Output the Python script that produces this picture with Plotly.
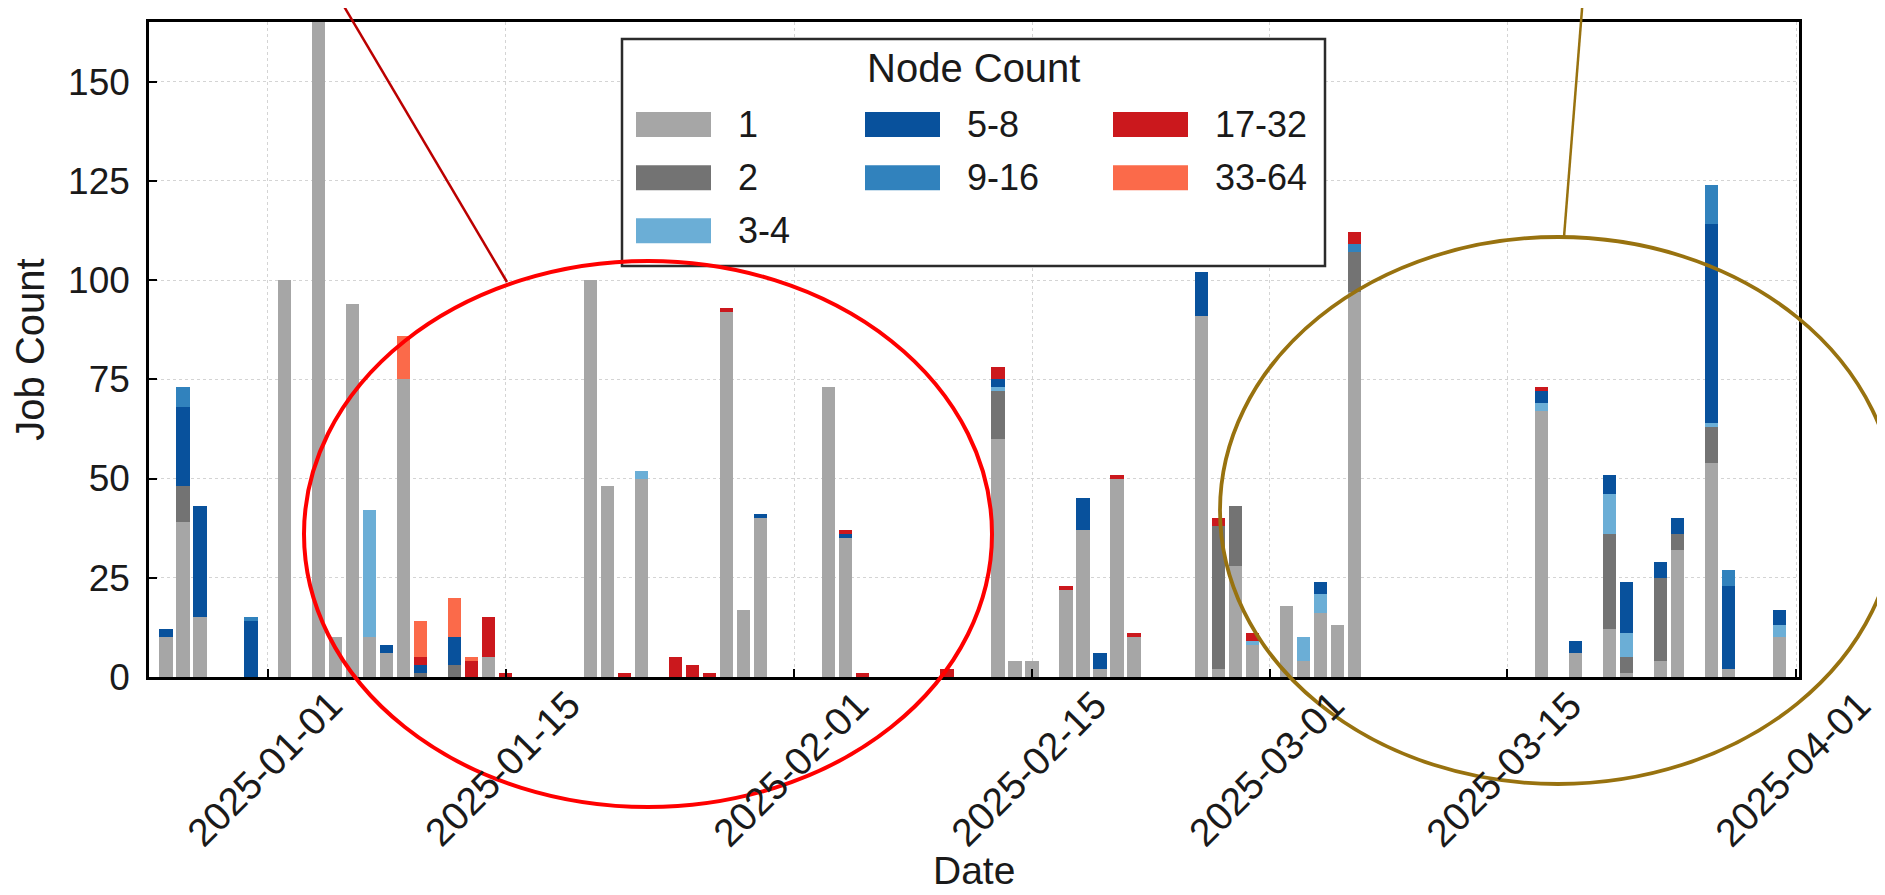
import plotly.graph_objects as go

# ---------------- data ----------------
dates = [
    "2024-12-26", "2024-12-27", "2024-12-28", "2024-12-31",
    "2025-01-02", "2025-01-04", "2025-01-05", "2025-01-06", "2025-01-07",
    "2025-01-08", "2025-01-09", "2025-01-10", "2025-01-12", "2025-01-13",
    "2025-01-14", "2025-01-15", "2025-01-20", "2025-01-21", "2025-01-22",
    "2025-01-23", "2025-01-25", "2025-01-26", "2025-01-27", "2025-01-28",
    "2025-01-29", "2025-01-30", "2025-02-03", "2025-02-04", "2025-02-05",
    "2025-02-10", "2025-02-13", "2025-02-14", "2025-02-15", "2025-02-17",
    "2025-02-18", "2025-02-19", "2025-02-20", "2025-02-21", "2025-02-25",
    "2025-02-26", "2025-02-27", "2025-02-28", "2025-03-02", "2025-03-03",
    "2025-03-04", "2025-03-05", "2025-03-06", "2025-03-17", "2025-03-19",
    "2025-03-21", "2025-03-22", "2025-03-24", "2025-03-25", "2025-03-27",
    "2025-03-28", "2025-03-31",
]

n1 = [10, 39, 15, 0, 100, 175, 10, 94, 10, 6, 75, 0, 0, 0, 5, 0, 100, 48, 0,
      50, 0, 0, 0, 92, 17, 40, 73, 35, 0, 0, 60, 4, 4, 22, 37, 2, 50, 10, 91,
      2, 28, 8, 18, 4, 16, 13, 97, 67, 6, 12, 1, 4, 32, 54, 2, 10]
n2 = [0, 9, 0, 0, 0, 0, 0, 0, 0, 0, 0, 1, 3, 0, 0, 0, 0, 0, 0,
      0, 0, 0, 0, 0, 0, 0, 0, 0, 0, 0, 12, 0, 0, 0, 0, 0, 0, 0, 0,
      36, 15, 0, 0, 0, 0, 0, 10, 0, 0, 24, 4, 21, 4, 9, 0, 0]
n3_4 = [0, 0, 0, 0, 0, 0, 0, 0, 32, 0, 0, 0, 0, 0, 0, 0, 0, 0, 0,
        2, 0, 0, 0, 0, 0, 0, 0, 0, 0, 0, 1, 0, 0, 0, 0, 0, 0, 0, 0,
        0, 0, 1, 0, 6, 5, 0, 0, 2, 0, 10, 6, 0, 0, 1, 0, 3]
n5_8 = [2, 20, 28, 14, 0, 0, 0, 0, 0, 2, 0, 2, 7, 0, 0, 0, 0, 0, 0,
        0, 0, 0, 0, 0, 0, 1, 0, 1, 0, 0, 2, 0, 0, 0, 8, 4, 0, 0, 11,
        0, 0, 0, 0, 0, 3, 0, 0, 3, 3, 5, 13, 4, 4, 50, 21, 4]
n9_16 = [0, 5, 0, 1, 0, 0, 0, 0, 0, 0, 0, 0, 0, 0, 0, 0, 0, 0, 0,
         0, 0, 0, 0, 0, 0, 0, 0, 0, 0, 0, 0, 0, 0, 0, 0, 0, 0, 0, 0,
         0, 0, 0, 0, 0, 0, 0, 2, 0, 0, 0, 0, 0, 0, 10, 4, 0]
n17_32 = [0, 0, 0, 0, 0, 0, 0, 0, 0, 0, 0, 2, 0, 4, 10, 1, 0, 0, 1,
          0, 5, 3, 1, 1, 0, 0, 0, 1, 1, 2, 3, 0, 0, 1, 0, 0, 1, 1, 0,
          2, 0, 2, 0, 0, 0, 0, 3, 1, 0, 0, 0, 0, 0, 0, 0, 0]
n33_64 = [0, 0, 0, 0, 0, 0, 0, 0, 0, 0, 11, 9, 10, 1, 0, 0, 0, 0, 0,
          0, 0, 0, 0, 0, 0, 0, 0, 0, 0, 0, 0, 0, 0, 0, 0, 0, 0, 0, 0,
          0, 0, 0, 0, 0, 0, 0, 0, 0, 0, 0, 0, 0, 0, 0, 0, 0]

series_names = ["1", "2", "3-4", "5-8", "9-16", "17-32", "33-64"]
series_values = [n1, n2, n3_4, n5_8, n9_16, n17_32, n33_64]
series_colors = ["#a6a6a6", "#737373", "#6baed6", "#08519c", "#3182bd", "#cb181d", "#fb6a4a"]

x_tick_vals = ["2025-01-01", "2025-01-15", "2025-02-01", "2025-02-15",
               "2025-03-01", "2025-03-15", "2025-04-01"]
x_tick_text = x_tick_vals
y_tick_vals = [0, 25, 50, 75, 100, 125, 150]

# ---------------- layout geometry (pixels) ----------------
W, H = 1885, 895
L, R, T, B = 141, 94, 14, 226
PW, PH = W - L - R, H - T - B


def px(x):
    return (x - L) / PW


def py(y):
    return (H - B - y) / PH


FONT = "Liberation Sans, Arial, sans-serif"
TXT = "#1a1a1a"
BAR_W = 0.78 * 86400000

fig = go.Figure()
for name, vals, col in zip(series_names, series_values, series_colors):
    fig.add_trace(go.Bar(x=dates, y=vals, name=name, marker=dict(color=col, line=dict(width=0)),
                         width=BAR_W, showlegend=False))

# ---------------- legend (3 columns, column-major like the original) ----------------
leg_box = (614, 31, 1317, 258)          # left, top, right, bottom (px)
col_swatch_x = [628, 857, 1105]
col_text_x = [728, 957, 1205]
row_y = [116.5, 169.7, 222.8]
sw_w, sw_h = 75, 25
legend_slots = [(0, 0), (0, 1), (0, 2), (1, 0), (1, 1), (2, 0), (2, 1)]

shapes = [
    dict(type="rect", xref="paper", yref="paper",
         x0=px(leg_box[0]), x1=px(leg_box[2]), y0=py(leg_box[3]), y1=py(leg_box[1]),
         line=dict(color="#2b2b2b", width=2.5), fillcolor="white", layer="above"),
]
annotations = [
    dict(text="Node Count", xref="paper", yref="paper", x=px(965.5), y=py(60),
         xanchor="center", yanchor="middle", showarrow=False,
         font=dict(size=40, family=FONT, color=TXT)),
]
for (name, col), (c, r) in zip(zip(series_names, series_colors), legend_slots):
    yc = row_y[r]
    shapes.append(dict(type="rect", xref="paper", yref="paper",
                       x0=px(col_swatch_x[c]), x1=px(col_swatch_x[c] + sw_w),
                       y0=py(yc + sw_h / 2), y1=py(yc - sw_h / 2),
                       line=dict(width=0), fillcolor=col, layer="above"))
    annotations.append(dict(text=name, xref="paper", yref="paper", x=px(col_text_x[c]), y=py(yc),
                            xanchor="left", yanchor="middle", showarrow=False,
                            font=dict(size=36, family=FONT, color=TXT)))

# ---------------- rotated date tick labels, centred under each tick ----------------
for tv, tt in zip(x_tick_vals, x_tick_text):
    annotations.append(dict(text=tt, xref="x", yref="paper", x=tv, y=py(672), xshift=-3,
                            xanchor="center", yanchor="top", textangle=-45, showarrow=False,
                            font=dict(size=39, family=FONT, color=TXT)))

# x axis title
annotations.append(dict(text="Date", xref="paper", yref="paper", x=0.5, y=py(886),
                        xanchor="center", yanchor="bottom", showarrow=False,
                        font=dict(size=39, family=FONT, color=TXT)))

# ---------------- annotation ellipses & pointer lines ----------------
shapes += [
    dict(type="circle", xref="paper", yref="paper", x0=px(296), x1=px(984), y0=py(799), y1=py(253),
         line=dict(color="#ff0000", width=4), layer="above"),
    dict(type="line", xref="paper", yref="paper", x0=px(334), y0=py(-5), x1=px(499), y1=py(274),
         line=dict(color="#bb0000", width=2.5), layer="above"),
    dict(type="circle", xref="paper", yref="paper", x0=px(1212), x1=px(1888), y0=py(776), y1=py(229),
         line=dict(color="#98720f", width=3.8), layer="above"),
    dict(type="line", xref="paper", yref="paper", x0=px(1574.5), y0=py(-5), x1=px(1556), y1=py(229),
         line=dict(color="#98720f", width=2.5), layer="above"),
]

fig.update_layout(
    width=W, height=H,
    margin=dict(l=L, r=R, t=T, b=B, autoexpand=False),
    paper_bgcolor="white", plot_bgcolor="white",
    barmode="stack", bargap=0, showlegend=False,
    font=dict(family=FONT, color=TXT, size=36),
    xaxis=dict(
        type="date", range=["2024-12-25", "2025-04-01 04:00"],
        tickvals=x_tick_vals, ticktext=x_tick_text, showticklabels=False,
        ticks="inside", ticklen=8, tickwidth=2, tickcolor="black",
        showline=True, linewidth=2.5, linecolor="black", mirror=True,
        showgrid=True, gridcolor="#d4d4d4", griddash="dot", gridwidth=1,
        zeroline=False, automargin=False,
    ),
    yaxis=dict(
        range=[0, 165], tickvals=y_tick_vals,
        ticks="inside", ticklen=8, tickwidth=2, tickcolor="black",
        showline=True, linewidth=2.5, linecolor="black", mirror=True,
        showgrid=True, gridcolor="#d4d4d4", griddash="dot", gridwidth=1,
        zeroline=False, tickfont=dict(size=37, family=FONT, color=TXT),
        ticklabelstandoff=9,
        title=dict(text="Job Count", font=dict(size=40, family=FONT, color=TXT), standoff=12),
        automargin=False,
    ),
    shapes=shapes,
    annotations=annotations,
)

fig.write_html("out.html")
